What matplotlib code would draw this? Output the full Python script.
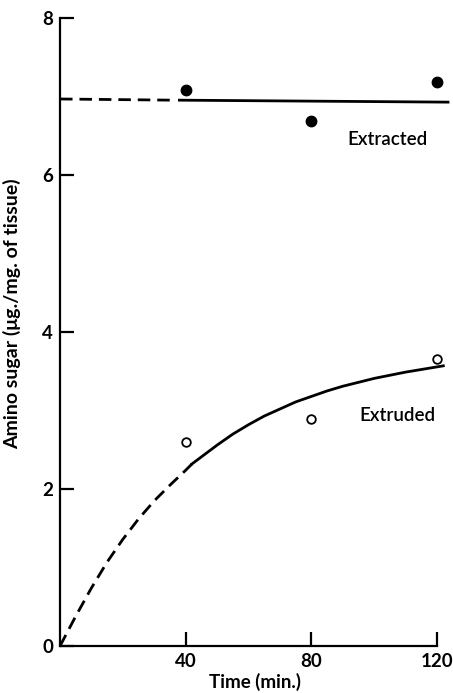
import numpy as np
import matplotlib
matplotlib.use('Agg')
import matplotlib.pyplot as plt

plt.rcParams['font.family'] = ['Lato', 'DejaVu Sans']

# measured points
time_pts = [40, 80, 120]
extracted = [7.08, 6.69, 7.19]
extruded = [2.60, 2.89, 3.66]

# fitted line for extracted
extr_dash_x = [0, 36]
extr_dash_y = [6.97, 6.955]
extr_solid_x = [38, 123.5]
extr_solid_y = [6.955, 6.93]

# fitted curve for extruded
extr_curve_x = [0, 5, 10, 15, 20, 25, 30, 35, 40, 42, 45, 50, 55, 60, 65, 70, 75, 80,
                85, 90, 95, 100, 105, 110, 116, 122]
extr_curve_y = [0, 0.38, 0.74, 1.07, 1.36, 1.62, 1.85, 2.05, 2.24, 2.32, 2.41, 2.56,
                2.70, 2.82, 2.93, 3.02, 3.11, 3.18, 3.25, 3.31, 3.36, 3.41, 3.45, 3.49,
                3.53, 3.57]
split = 42

fig = plt.figure(figsize=(4.53, 6.93), dpi=100)
ax = fig.add_axes([0.1325, 0.0678, 0.86, 0.906])

lw = 2.0
ax.plot(extr_dash_x, extr_dash_y, color='black', lw=lw, linestyle=(0, (4.5, 2.5)))
ax.plot(extr_solid_x, extr_solid_y, color='black', lw=lw)

cx = np.array(extr_curve_x)
cy = np.array(extr_curve_y)
m = cx <= split
ax.plot(cx[m], cy[m], color='black', lw=lw, linestyle=(0, (4.5, 2.5)))
ax.plot(cx[cx >= split], cy[cx >= split], color='black', lw=lw, solid_joinstyle='round')

ax.plot(time_pts, extracted, 'o', color='black', markersize=7.5, zorder=3)
ax.plot(time_pts, extruded, 'o', markerfacecolor='white', markeredgecolor='black',
        markeredgewidth=1.3, markersize=6.2, zorder=3)

ax.text(91.4, 6.46, 'Extracted', fontsize=13.5, fontweight='semibold', va='center', ha='left')
ax.text(95.2, 2.94, 'Extruded', fontsize=13.5, fontweight='semibold', va='center', ha='left')

ax.set_xlim(0, 124)
ax.set_ylim(0, 8)
ax.spines['top'].set_visible(False)
ax.spines['right'].set_visible(False)
ax.spines['bottom'].set_bounds(0, 120)
for s in ['left', 'bottom']:
    ax.spines[s].set_linewidth(1.6)

ax.set_xticks([40, 80, 120])
ax.set_yticks([0, 2, 4, 6, 8])
ax.tick_params(direction='in', length=10, width=1.6, labelsize=13.5, pad=5)
for lab in ax.get_xticklabels() + ax.get_yticklabels():
    lab.set_fontweight('bold')

ax.set_xlabel('Time (min.)', fontsize=13.5, fontweight='bold', labelpad=2)
ax.set_ylabel('Amino sugar (μg./mg. of tissue)', fontsize=14, fontweight='bold')
ax.yaxis.set_label_coords(-0.1, 0.53)

fig.savefig('out.png', dpi=100)
